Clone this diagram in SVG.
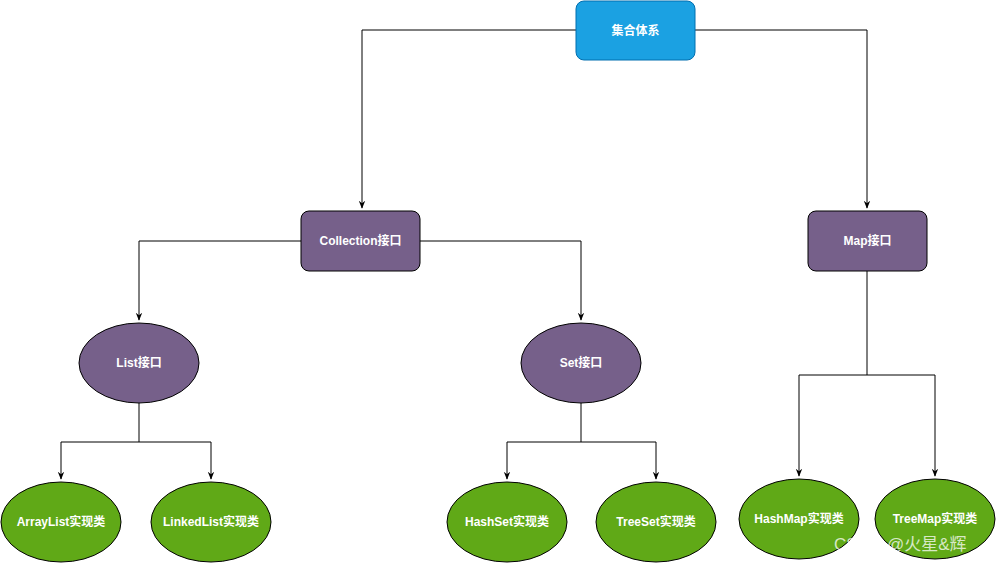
<svg xmlns="http://www.w3.org/2000/svg" width="996" height="563" viewBox="0 0 996 563">
<style>
.t{font-family:"Liberation Sans","Noto Sans CJK SC",sans-serif;font-size:12px;font-weight:bold;fill:#fff;text-anchor:middle;dominant-baseline:central}
.p{fill:#76608a;stroke:#000;stroke-width:1}
.g{fill:#60a917;stroke:#000;stroke-width:1}
.c{fill:none;stroke:#000;stroke-width:1}
</style>
<defs><marker id="a" viewBox="0 0 10 10" refX="9" refY="5" markerWidth="8" markerHeight="8" orient="auto"><path d="M0,1 L10,5 L0,9 L3,5 Z" fill="#000"/></marker></defs>
<rect width="996" height="563" fill="#fff"/>
<g id="connectors">
<path class="c" d="M576,30 H362 V208" marker-end="url(#a)"/>
<path class="c" d="M695,30 H867 V208" marker-end="url(#a)"/>
<path class="c" d="M301,241 H139 V320" marker-end="url(#a)"/>
<path class="c" d="M420,241 H581 V320" marker-end="url(#a)"/>
<path class="c" d="M139,403 V442 H61 V479" marker-end="url(#a)"/>
<path class="c" d="M139,442 H211 V479" marker-end="url(#a)"/>
<path class="c" d="M581,403 V442 H507 V479" marker-end="url(#a)"/>
<path class="c" d="M581,442 H656 V479" marker-end="url(#a)"/>
<path class="c" d="M867,271 V375 H799 V476" marker-end="url(#a)"/>
<path class="c" d="M867,375 H935 V476" marker-end="url(#a)"/>
</g>
<g id="root"><rect x="576" y="1" width="119" height="59" rx="8" fill="#1ba1e2" stroke="#006eaf"/><text class="t" x="635.5" y="30.5">集合体系</text></g>
<g id="collection"><rect class="p" x="301" y="211" width="119" height="60" rx="8"/><text class="t" x="360.5" y="241">Collection接口</text></g>
<g id="map"><rect class="p" x="808" y="211" width="119" height="60" rx="8"/><text class="t" x="867.5" y="241">Map接口</text></g>
<g id="list"><ellipse class="p" cx="139" cy="363" rx="60" ry="40"/><text class="t" x="139" y="363">List接口</text></g>
<g id="set"><ellipse class="p" cx="581" cy="363" rx="60" ry="40"/><text class="t" x="581" y="363">Set接口</text></g>
<g id="arraylist"><ellipse class="g" cx="61" cy="522" rx="60" ry="40"/><text class="t" x="61" y="522">ArrayList实现类</text></g>
<g id="linkedlist"><ellipse class="g" cx="211" cy="522" rx="60" ry="40"/><text class="t" x="211" y="522">LinkedList实现类</text></g>
<g id="hashset"><ellipse class="g" cx="507" cy="522" rx="60" ry="40"/><text class="t" x="507" y="522">HashSet实现类</text></g>
<g id="treeset"><ellipse class="g" cx="656" cy="522" rx="60" ry="40"/><text class="t" x="656" y="522">TreeSet实现类</text></g>
<g id="hashmap"><ellipse class="g" cx="799" cy="519" rx="60" ry="40"/><text class="t" x="799" y="519">HashMap实现类</text></g>
<g id="treemap"><ellipse class="g" cx="935" cy="519" rx="60" ry="40"/><text class="t" x="935" y="519">TreeMap实现类</text></g>
<text x="834" y="550" font-family="Liberation Sans,Noto Sans CJK SC,sans-serif" font-size="17" fill="#fff" fill-opacity="0.75">CSDN @火星&amp;辉</text>
</svg>
